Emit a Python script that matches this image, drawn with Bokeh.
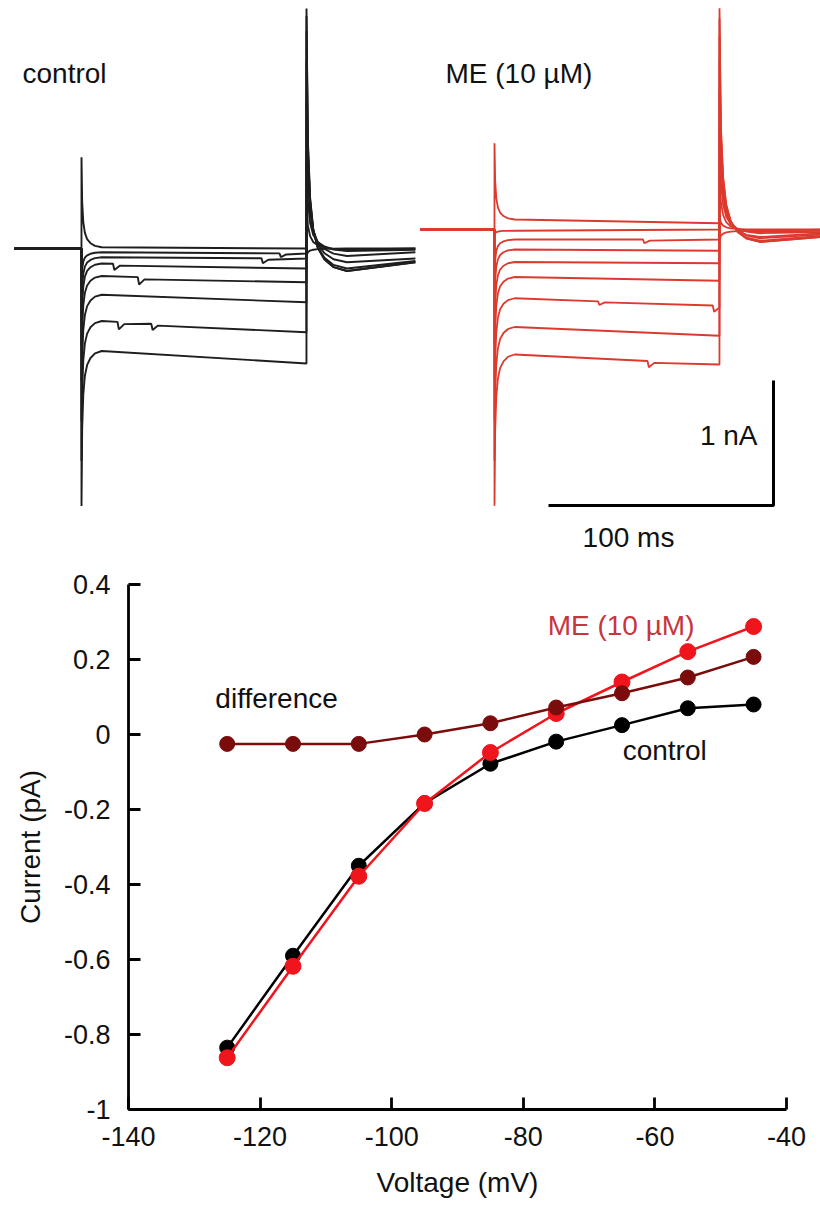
from bokeh.plotting import figure
from bokeh.models import Range1d, Label, FixedTicker, CustomJSTickFormatter
from bokeh.layouts import column
from bokeh.embed import file_html
from bokeh.resources import INLINE

FONT = "Liberation Sans"

# ---------------- I-V relationship (bottom panel) ----------------
voltage_mv = [-125, -115, -105, -95, -85, -75, -65, -55, -45]
control_current = [-0.835, -0.59, -0.35, -0.183, -0.078, -0.019, 0.025, 0.07, 0.08]
me_current = [-0.862, -0.618, -0.378, -0.184, -0.048, 0.056, 0.14, 0.221, 0.288]
difference_current = [-0.025, -0.025, -0.025, 0.0, 0.03, 0.072, 0.11, 0.152, 0.207]
x_ticks = [-140, -120, -100, -80, -60, -40]
y_ticks = [-1, -0.8, -0.6, -0.4, -0.2, 0, 0.2, 0.4]

# ---------------- Current traces (top panels), nA relative to holding ----------------
step_ms = 100
# control
ctrl_onset_peak = [0.73, -0.30, -0.54, -0.78, -1.06, -1.38, -1.70, -2.06]
ctrl_early = [0.01, -0.03, -0.07, -0.12, -0.22, -0.37, -0.58, -0.82]
ctrl_late = [0.0, -0.04, -0.08, -0.16, -0.27, -0.43, -0.67, -0.92]
ctrl_offset_peak = [-0.06, 0.38, 0.78, 1.18, 1.50, 1.74, 1.86, 1.92]
ctrl_tail = [0.0, -0.01, -0.02, -0.06, -0.11, -0.16, -0.18, -0.18]
ctrl_tail_end = [0.0, 0.0, -0.01, -0.03, -0.08, -0.10, -0.11, -0.11]
ctrl_glitch_trace = [3, 4, 6, 6, 2, 1]
ctrl_glitch_ms = [14, 25, 16, 31, 80, 88]
ctrl_glitch_na = [0.05, 0.06, 0.06, 0.05, 0.04, 0.03]
# ME (10 uM)
me_onset_peak = [0.69, -0.05, -0.41, -0.65, -0.93, -1.21, -1.53, -1.85, -2.21]
me_early = [0.08, -0.01, -0.08, -0.16, -0.26, -0.38, -0.55, -0.78, -1.00]
me_late = [0.05, 0.0, -0.08, -0.17, -0.27, -0.41, -0.61, -0.85, -1.08]
me_offset_peak = [-0.09, 0.11, 0.47, 0.79, 1.11, 1.35, 1.55, 1.69, 1.77]
me_tail = [-0.01, 0.0, -0.02, -0.03, -0.06, -0.07, -0.09, -0.10, -0.10]
me_tail_end = [0.0, 0.0, -0.01, -0.02, -0.03, -0.04, -0.05, -0.06, -0.06]
me_glitch_trace = [2, 6, 6, 8]
me_glitch_ms = [66, 46, 97, 68]
me_glitch_na = [0.03, 0.03, 0.05, 0.05]
# capacitive transient shape
transient_ms = [0, 0.3, 0.8, 1.5, 2.5, 4, 6, 9]
tail_ms = [0, 0.6, 1.6, 3, 5, 8, 12, 18]
transient_frac = [1, 0.5, 0.28, 0.16, 0.09, 0.045, 0.015, 0]

# scale bars
scale_ms = 100
scale_na = 1

# ---------------- layout constants (pixels -> data) ----------------
PX_PER_MS = 2.25
PX_PER_NA = 125.0
TOP_H = 560
W = 820


def build_trace(i, onset_peak, early, late, off_peak, tail, tail_end,
                g_tr, g_ms, g_na, pre, post):
    t = [-pre, -0.01]
    v = [0.0, 0.0]
    for tt, f in zip(transient_ms, transient_frac):
        t.append(tt)
        v.append(early[i] + (onset_peak[i] - early[i]) * f)
    t0 = transient_ms[-1]
    gl = sorted([(gm, gn) for gtr, gm, gn in zip(g_tr, g_ms, g_na) if gtr == i])
    for gm, gn in gl:
        base = early[i] + (late[i] - early[i]) * (gm - t0) / (step_ms - t0)
        t += [gm, gm + 0.6, gm + 3]
        v += [base, base - gn, base - 0.3 * gn]
    t.append(step_ms - 0.01)
    v.append(late[i])
    for tt, f in zip(tail_ms, transient_frac):
        t.append(step_ms + tt)
        v.append(tail[i] + (off_peak[i] - tail[i]) * f)
    t.append(step_ms + post)
    v.append(tail_end[i])
    return t, v


top = figure(width=W, height=TOP_H, output_backend="svg", toolbar_location=None,
             x_range=Range1d(0, W / PX_PER_MS),
             y_range=Range1d(-(TOP_H - 248) / PX_PER_NA, 248 / PX_PER_NA),
             x_axis_location=None, y_axis_location=None,
             min_border=0, outline_line_color=None)
top.grid.visible = False
top.frame_align = False

# control panel
c_on, c_base = 81 / PX_PER_MS, 0.0
for i in range(len(ctrl_early)):
    t, v = build_trace(i, ctrl_onset_peak, ctrl_early, ctrl_late, ctrl_offset_peak,
                       ctrl_tail, ctrl_tail_end, ctrl_glitch_trace, ctrl_glitch_ms,
                       ctrl_glitch_na, 29.8, 48.4)
    top.line([c_on + x for x in t], [c_base + y for y in v], line_color="#1e1e1e",
             line_width=1.9)

# ME panel
m_on, m_base = 494 / PX_PER_MS, (248 - 229) / PX_PER_NA
for i in range(len(me_early)):
    t, v = build_trace(i, me_onset_peak, me_early, me_late, me_offset_peak,
                       me_tail, me_tail_end, me_glitch_trace, me_glitch_ms,
                       me_glitch_na, 32.9, 45.5)
    top.line([m_on + x for x in t], [m_base + y for y in v], line_color="#dc3a2f",
             line_width=1.8)

# scale bar
sb_x, sb_y = 773 / PX_PER_MS, (248 - 505) / PX_PER_NA
top.line([sb_x - scale_ms, sb_x, sb_x], [sb_y, sb_y, sb_y + scale_na],
         line_color="black", line_width=3)

for txt, x, y, align in [
    ("control", 22 / PX_PER_MS, (248 - 73) / PX_PER_NA, "left"),
    ("ME (10 µM)", 445 / PX_PER_MS, (248 - 73) / PX_PER_NA, "left"),
    ("1 nA", 757 / PX_PER_MS, (248 - 435) / PX_PER_NA, "right"),
    ("100 ms", 628 / PX_PER_MS, (248 - 537) / PX_PER_NA, "center"),
]:
    top.add_layout(Label(x=x, y=y, text=txt, text_font=FONT, text_font_size="28px",
                         text_align=align, text_baseline="middle", text_color="#111111"))

# ---------------- I-V plot ----------------
iv = figure(width=W, height=1205 - TOP_H, output_backend="svg", toolbar_location=None,
            x_range=Range1d(-140, -40), y_range=Range1d(-1, 0.4),
            min_border_left=128, min_border_right=34, min_border_top=24,
            min_border_bottom=96, outline_line_color=None)
iv.grid.visible = False
iv.frame_align = False

iv.line(voltage_mv, control_current, line_color="black", line_width=2.5)
iv.scatter(voltage_mv, control_current, size=15, fill_color="black", line_color="black")
iv.line(voltage_mv, me_current, line_color="#f0141c", line_width=2.5)
iv.scatter(voltage_mv, me_current, size=16, fill_color="#f0141c", line_color="#f0141c")
iv.line(voltage_mv, difference_current, line_color="#7a0c0c", line_width=2.5)
iv.scatter(voltage_mv, difference_current, size=15, fill_color="#7a0c0c", line_color="#7a0c0c")

for txt, x, y, col in [
    ("difference", -126.8, 0.096, "#111111"),
    ("ME (10 µM)", -76.3, 0.29, "#c8353d"),
    ("control", -64.9, -0.043, "#111111"),
]:
    iv.add_layout(Label(x=x, y=y, text=txt, text_font=FONT, text_font_size="28px",
                        text_align="left", text_baseline="middle", text_color=col))

for ax in (iv.xaxis[0], iv.yaxis[0]):
    ax.axis_line_width = 2.8
    ax.axis_line_color = "black"
    ax.major_tick_line_width = 2.8
    ax.major_tick_line_color = "black"
    ax.major_tick_in = 12
    ax.major_tick_out = 0
    ax.minor_tick_line_color = None
    ax.major_label_text_font = FONT
    ax.major_label_text_font_size = "27px"
    ax.major_label_text_color = "#111111"
    ax.axis_label_text_font = FONT
    ax.axis_label_text_font_size = "28px"
    ax.axis_label_text_font_style = "normal"
    ax.axis_label_text_color = "#111111"

iv.xaxis[0].ticker = FixedTicker(ticks=x_ticks)
iv.yaxis[0].ticker = FixedTicker(ticks=y_ticks)
iv.xaxis[0].formatter = CustomJSTickFormatter(code="return tick.toFixed(0);")
iv.yaxis[0].formatter = CustomJSTickFormatter(code="return tick.toFixed(1).replace(/\\.0$/, '');")
iv.xaxis[0].axis_label = "Voltage (mV)"
iv.yaxis[0].axis_label = "Current (pA)"
iv.xaxis[0].major_label_standoff = 17
iv.yaxis[0].major_label_standoff = 18
iv.xaxis[0].axis_label_standoff = 18
iv.yaxis[0].axis_label_standoff = 15

layout = column(top, iv, spacing=0)
open("out.html", "w").write(file_html(layout, INLINE))
